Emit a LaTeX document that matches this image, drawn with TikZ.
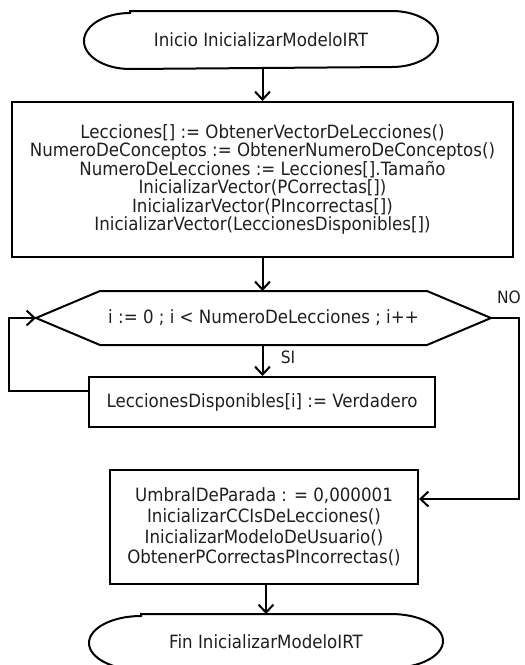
\documentclass[tikz,border=0pt]{standalone}
\usepackage{fontspec}
\setmainfont[FakeStretch=0.91]{DejaVu Sans}
\usetikzlibrary{arrows.meta}
\begin{document}
\begin{tikzpicture}[x=1pt,y=-1pt,
  line width=2pt,
  txt/.style={font=\fontsize{18.3}{18.5}\selectfont, text=black!88, align=center, inner sep=0pt},
  shapebox/.style={txt, draw, line width=2pt},
  arr/.style={-{Straight Barb[length=8pt,width=15pt,line width=2pt]}},
  lbl/.style={font=\fontsize{17}{17}\selectfont, text=black!88, inner sep=0pt}]
\useasboundingbox (0,0) rectangle (525,665);

% Start terminal
\node[txt, minimum width=352pt, minimum height=56pt] (start) at (261,40) {Inicio InicializarModeloIRT};
\draw ([xshift=46pt]start.north west) -- ([xshift=-46pt]start.north east)
  arc[start angle=90,end angle=-90,x radius=46pt,y radius=28pt]
  -- ([xshift=46pt]start.south west)
  arc[start angle=270,end angle=90,x radius=46pt,y radius=28pt] -- cycle;

% Box 1
\node[shapebox, minimum width=501pt, minimum height=155pt] (box1) at (262.5,179.5)
  {Lecciones[] := ObtenerVectorDeLecciones()\\
   NumeroDeConceptos := ObtenerNumeroDeConceptos()\\
   NumeroDeLecciones := Lecciones[].Tamaño\\
   InicializarVector(PCorrectas[])\\
   InicializarVector(PIncorrectas[])\\
   InicializarVector(LeccionesDisponibles[])};

% Hexagon (loop)
\node[txt, minimum width=453pt, minimum height=52pt] (hex) at (263.5,318)
  {i := 0 ; i < NumeroDeLecciones ; i++};
\draw (hex.west) -- ([xshift=64pt]hex.north west) -- ([xshift=-64pt]hex.north east)
  -- (hex.east) -- ([xshift=-64pt]hex.south east) -- ([xshift=64pt]hex.south west) -- cycle;

% Box 2
\node[shapebox, minimum width=346pt, minimum height=50pt] (box2) at (262,402)
  {LeccionesDisponibles[i] := Verdadero};

% Box 3
\node[shapebox, minimum width=308pt, minimum height=114pt,
  font=\fontsize{18.3}{20.7}\selectfont] (box3) at (264,527)
  {UmbralDeParada : = 0,000001\\
   InicializarCCIsDeLecciones()\\
   InicializarModeloDeUsuario()\\
   ObtenerPCorrectasPIncorrectas()};

% End terminal
\node[txt, minimum width=352pt, minimum height=54pt] (fin) at (266,642) {Fin InicializarModeloIRT};
\draw ([xshift=52pt]fin.north west) -- ([xshift=-52pt]fin.north east)
  arc[start angle=90,end angle=-90,x radius=52pt,y radius=27pt]
  -- ([xshift=52pt]fin.south west)
  arc[start angle=270,end angle=90,x radius=52pt,y radius=27pt] -- cycle;

% Labels
\node[lbl] (si) at (288,357) {SI};
\node[lbl] (no) at (509,297) {NO};

% Connectors
\draw[arr] (start.south -| box1.north) -- (box1.north);
\draw[arr] (box1.south) -- (box1.south |- hex.north);
\draw[arr] (box1.south |- hex.south) -- (box1.south |- box2.north);
\draw[arr] ([yshift=11pt]box2.west) -- ++(-79,0) |- (hex.west);
\draw[arr] (hex.east) -- ++(28,0) |- ([yshift=28pt]box3.east);
\draw[arr] (box3.south -| fin.north) -- (fin.north);
\end{tikzpicture}
\end{document}
